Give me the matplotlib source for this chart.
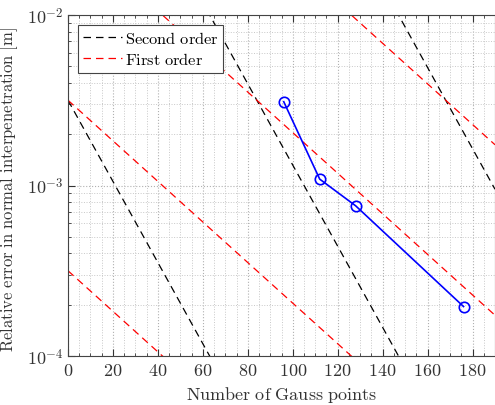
import numpy as np
import matplotlib
matplotlib.use("Agg")
import matplotlib.pyplot as plt
from matplotlib.ticker import MultipleLocator, LogLocator, NullFormatter

plt.rcParams['mathtext.fontset'] = 'cm'
plt.rcParams['font.family'] = ['DejaVu Serif']

# Data
gauss_points = [96, 112, 128, 176]
rel_error = [3.1e-3, 1.09e-3, 7.6e-4, 1.95e-4]

# Reference slopes (decades per Gauss point) and intercepts (log10 at n=0)
first_slope = 0.0119
second_slope = 2 * first_slope
first_intercepts = [-3.5, -2.5, -1.5, -0.5]
second_intercepts = [-2.5, -0.5, 1.5]

fig = plt.figure(figsize=(4.95, 4.06), dpi=100)
ax = fig.add_axes([68/495, 1 - 357/406, (495 - 68)/495, (357 - 16)/406])

n = np.linspace(0, 190, 400)
for i, c in enumerate(second_intercepts):
    ax.semilogy(n, 10 ** (c - second_slope * n), color='black', ls=(0, (6, 4)), lw=0.9,
                label=r'$\mathrm{Second\ order}$' if i == 0 else None)
for i, c in enumerate(first_intercepts):
    ax.semilogy(n, 10 ** (c - first_slope * n), color='red', ls=(0, (6, 4)), lw=0.9,
                label=r'$\mathrm{First\ order}$' if i == 0 else None)

ax.semilogy(gauss_points, rel_error, color='blue', marker='o', mfc='none', ms=7.5, mew=1.2, lw=1.2)

ax.set_xlim(0, 190)
ax.set_ylim(1e-4, 1e-2)
ax.xaxis.set_major_locator(MultipleLocator(20))
ax.xaxis.set_minor_locator(MultipleLocator(5))
ax.yaxis.set_major_locator(LogLocator(base=10, numticks=10))
ax.yaxis.set_minor_locator(LogLocator(base=10, subs=np.arange(2, 10), numticks=20))
ax.yaxis.set_minor_formatter(NullFormatter())
ax.set_xticks(range(0, 181, 20))
ax.set_xticklabels([r'$%d$' % v for v in range(0, 181, 20)])
ax.set_yticks([1e-4, 1e-3, 1e-2])
ax.set_yticklabels([r'$10^{-4}$', r'$10^{-3}$', r'$10^{-2}$'])

ax.grid(True, which='major', ls=':', color='#b0b0b0', lw=0.8)
ax.grid(True, which='minor', ls=':', color='#c8c8c8', lw=0.7)
ax.tick_params(which='both', direction='in', top=True, right=False, labelsize=13, colors='#333333')
ax.tick_params(which='major', length=5)
ax.tick_params(which='minor', length=2.5)
for s in ax.spines.values():
    s.set_color('#444444')
    s.set_linewidth(0.8)

ax.set_xlabel(r'$\mathrm{Number\ of\ Gauss\ points}$', fontsize=13, color='#333333')
ax.set_ylabel(r'$\mathrm{Relative\ error\ in\ normal\ interpenetration\ [m]}$', fontsize=12,
              color='#333333')
ax.yaxis.set_label_coords(-0.112, 0.49)

leg = ax.legend(loc='upper left', bbox_to_anchor=(10/427, 1 - 10/341), fontsize=11.8, fancybox=False,
                framealpha=1, edgecolor='#444444', handlelength=2.4, handletextpad=0.15,
                borderpad=0.3, labelspacing=0.25, borderaxespad=0)
leg.get_frame().set_linewidth(0.8)

fig.savefig('out.png', dpi=100)
